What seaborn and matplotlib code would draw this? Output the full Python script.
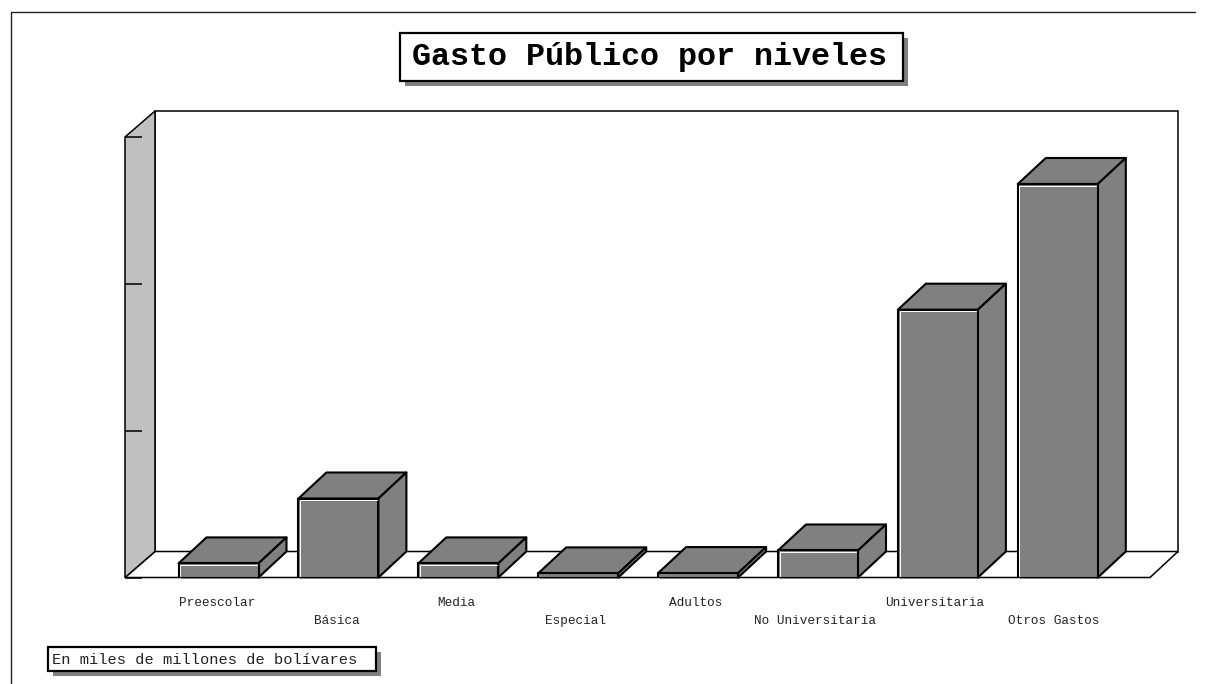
import matplotlib
matplotlib.use('Agg')
import matplotlib.pyplot as plt
from matplotlib.patches import Rectangle
import pandas as pd
import seaborn as sns

# -- Data --
niveles = ['Preescolar', 'Básica', 'Media', 'Especial', 'Adultos',
           'No Universitaria', 'Universitaria', 'Otros Gastos']
gasto = [48, 269, 48, 14, 15, 92, 912, 1340]
y_ticks = [0, 500, 1000, 1500]

titulo = 'Gasto Público por niveles'
nota = 'En miles de millones de bolívares'

# -- Figure size and pixel helpers --
W, H = 1205, 684
GRIS = '#808080'
PARED = '#C0C0C0'
FUENTE = 'Liberation Mono'

sns.set_theme(style='white')
plt.rcParams['font.family'] = [FUENTE, 'DejaVu Sans']

fig = plt.figure(figsize=(W / 100, H / 100), dpi=100, facecolor='white')


def fx(x):
    return x / W


def fy(y):
    return 1 - y / H


def caja(x0, y0, x1, y1, lw, sombra):
    # box with a grey drop shadow, given in pixels
    fig.add_artist(Rectangle((fx(x0 + sombra), fy(y1 + sombra)), (x1 - x0) / W, (y1 - y0) / H,
                             transform=fig.transFigure, facecolor=GRIS, edgecolor='none'))
    fig.add_artist(Rectangle((fx(x0), fy(y1)), (x1 - x0) / W, (y1 - y0) / H,
                             transform=fig.transFigure, facecolor='white', edgecolor='black', linewidth=lw))


# -- Outer frame --
fig.add_artist(plt.Line2D([fx(11), fx(11), fx(1195)], [fy(684), fy(12), fy(12)],
                          transform=fig.transFigure, color='#222222', linewidth=1))

# -- Axes: front of the floor runs 125..1150 px, y ticks 137..577.5 px --
ax = fig.add_axes([fx(125), fy(577.5), (1150 - 125) / W, (577.5 - 137) / H])
ax.patch.set_visible(False)

df = pd.DataFrame({'nivel': niveles, 'gasto': gasto})

PASO = 119.9
PX_Y = 1500 / (577.5 - 137)
sns.barplot(data=df, x='nivel', y='gasto', color=GRIS, saturation=1, width=80 / PASO,
            edgecolor='black', linewidth=1.5, zorder=4, ax=ax)
barras = list(ax.patches)

x_min = -(218.5 - 125) / PASO
x_max = (1150 - 218.5) / PASO
ax.set_xlabel('')
ax.set_ylabel('')
sns.despine(ax=ax, left=True, bottom=True, top=True, right=True)

dx = 28 / PASO
dx_pared = 30 / PASO
dy = 26 * PX_Y

# -- Back wall, floor and left wall --
borde = dict(edgecolor='black', linewidth=1.1, clip_on=False, joinstyle='miter')
ax.fill([x_min + dx_pared, x_max + dx, x_max + dx, x_min + dx_pared], [dy, dy, 1500 + dy, 1500 + dy],
        facecolor='white', zorder=1, **borde)
ax.fill([x_min, x_max, x_max + dx, x_min + dx_pared], [0, 0, dy, dy], facecolor='white', zorder=1.1, **borde)
ax.fill([x_min, x_min + dx_pared, x_min + dx_pared, x_min], [0, dy, 1500 + dy, 1500],
        facecolor=PARED, zorder=1.2, **borde)

# -- Depth faces of each bar --
for barra in barras:
    x0 = barra.get_x()
    x1 = x0 + barra.get_width()
    h = barra.get_height()
    caras = dict(facecolor=GRIS, edgecolor='black', linewidth=1.5, zorder=3.5, clip_on=False, joinstyle='round')
    ax.fill([x0, x1, x1 + dx, x0 + dx], [h, h, h + dy, h + dy], **caras)
    ax.fill([x1, x1 + dx, x1 + dx, x1], [0, dy, h + dy, h], **caras)
    # thin shadow under the bar
    ax.add_patch(Rectangle((x0 + 2 / PASO, -1.6 * PX_Y), barra.get_width(), 4 * PX_Y, facecolor=GRIS,
                           edgecolor='none', zorder=3, clip_on=False))
    # white highlight just inside the front face
    if h / PX_Y > 10:
        mx, my = 1.6 / PASO, 1.7 * PX_Y
        ax.plot([x0 + mx, x0 + mx, x1 - mx], [my, h - my, h - my], color='white', linewidth=0.7,
                solid_joinstyle='miter', zorder=5)

ax.set_xlim(x_min, x_max)
ax.set_ylim(0, 1500)

# -- Ticks --
ax.set_axisbelow(False)
ax.set_yticks(y_ticks)
ax.tick_params(axis='y', left=True, direction='in', length=12.2, width=1.1, color='black', labelleft=False)
# the labels sit on a slightly narrower step than the bars
ax.set_xticks([(i * 119.57 - 1.5) / PASO for i in range(len(niveles))], labels=niveles)
ax.tick_params(axis='x', bottom=False, labelsize=9.15, labelcolor='#222222')
for i, tick in enumerate(ax.xaxis.get_major_ticks()):
    tick.set_pad(20.8 if i % 2 == 1 else 7.8)
for etiqueta in ax.get_xticklabels():
    etiqueta.set_fontfamily(FUENTE)

# -- Title and note boxes --
caja(400, 33, 903, 81, 1.6, 5)
fig.text(fx(649), fy(57), titulo, ha='center', va='center', fontsize=22.9, fontweight='bold', color='black')
caja(48, 647, 376, 671, 1.6, 5)
fig.text(fx(52), fy(660), nota, ha='left', va='center', fontsize=11.1, color='#222222')

fig.savefig('out.png', dpi=100)
